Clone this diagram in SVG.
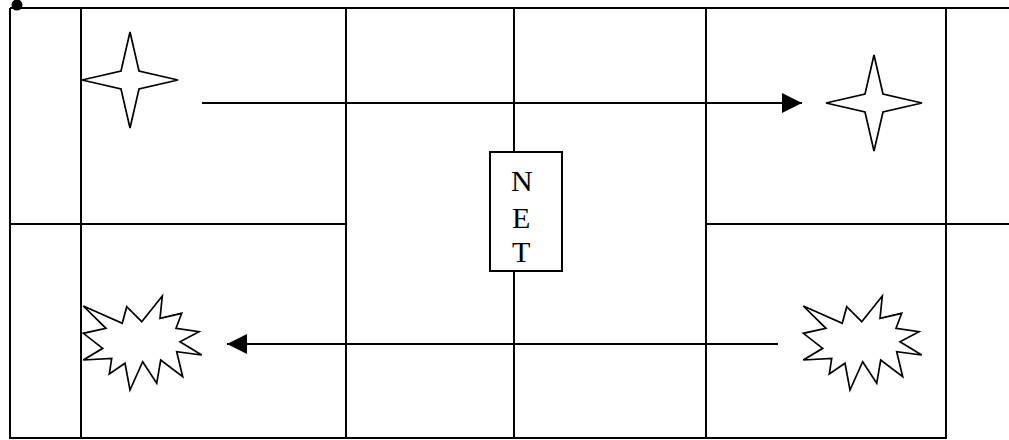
<svg xmlns="http://www.w3.org/2000/svg" width="1009" height="440" viewBox="0 0 1009 440">
<style>
.ln{stroke:#000;stroke-width:2;fill:none}
.sh{stroke:#000;stroke-width:1.7;fill:#fff;stroke-linejoin:miter}
.t{font-family:"Liberation Serif",serif;font-size:30px;fill:#000}
</style>
<defs>
<marker id="ah" markerWidth="20" markerHeight="20" refX="20" refY="10" orient="auto" markerUnits="userSpaceOnUse">
<path d="M0,0 L20,10 L0,20 Z" fill="#000"/>
</marker>
<path id="star" d="M0,-48 L9,-9 L48,0 L9,9 L0,48 L-9,9 L-48,0 L-9,-9 Z"/>
<path id="boom" d="M83.3,306 L122.3,323.3 L126.7,306.7 L141.7,321.7 L162.3,296 L160,318.3 L181.7,313.3 L176,328.3 L199,331.7 L180,341.7 L201.7,355 L176.7,351.7 L182.7,376.7 L160.7,360 L156.7,383.3 L142.7,361.7 L130,390 L125,363.3 L109.3,374 L111.7,358.3 L83.3,360 L102.7,348.3 L83.3,333.3 L106,328.3 Z"/>
</defs>
<rect width="1009" height="440" fill="#fff"/>
<g id="grid">
<circle cx="17" cy="5" r="5.5" fill="#000"/>
<line class="ln" x1="10" y1="8" x2="1009" y2="8"/>
<line class="ln" x1="10" y1="438" x2="946" y2="438"/>
<line class="ln" x1="10" y1="8" x2="10" y2="439"/>
<line class="ln" x1="81" y1="8" x2="81" y2="439"/>
<line class="ln" x1="346" y1="8" x2="346" y2="439"/>
<line class="ln" x1="514" y1="8" x2="514" y2="152"/>
<line class="ln" x1="514" y1="271" x2="514" y2="439"/>
<line class="ln" x1="706" y1="8" x2="706" y2="439"/>
<line class="ln" x1="946" y1="8" x2="946" y2="439"/>
<line class="ln" x1="10" y1="224" x2="346" y2="224"/>
<line class="ln" x1="706" y1="224" x2="1009" y2="224"/>
</g>
<g id="star-left"><use href="#star" class="sh" transform="translate(130,80)"/></g>
<g id="star-right"><use href="#star" class="sh" transform="translate(874,103)"/></g>
<g id="boom-left"><use href="#boom" class="sh"/></g>
<g id="boom-right"><use href="#boom" class="sh" transform="translate(720,0)"/></g>
<g id="net">
<rect x="490" y="152" width="72" height="119" class="ln" style="fill:#fff"/>
<text class="t" x="511" y="191">N</text>
<text class="t" x="512" y="228">E</text>
<text class="t" x="512" y="262">T</text>
</g>
<g id="connectors">
<line class="ln" x1="202" y1="103" x2="802" y2="103" marker-end="url(#ah)"/>
<line class="ln" x1="778" y1="344" x2="227" y2="344" marker-end="url(#ah)"/>
</g>
</svg>
